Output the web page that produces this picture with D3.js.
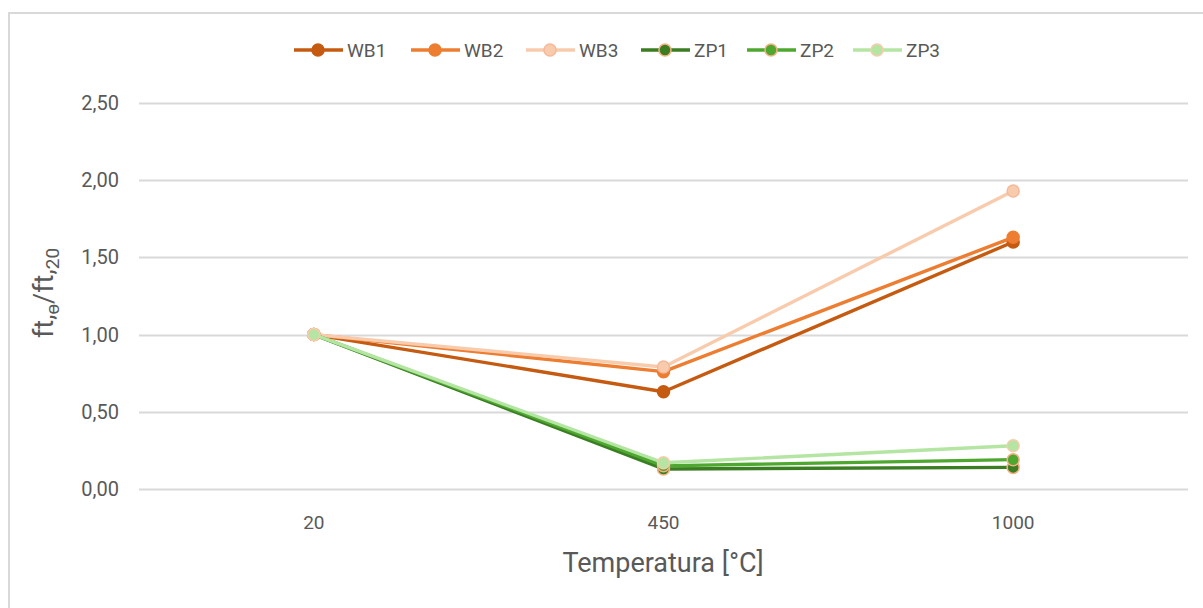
<!DOCTYPE html>
<html>
<head>
<meta charset="utf-8">
<style>
    body { margin: 0; background: #fff; }
    text { font-family: Roboto, "Liberation Sans", sans-serif; fill: #595959; }
</style>
</head>
<body>
<div class="board"></div>
<script src="https://d3js.org/d3.v7.min.js"></script>
<script>
    // data
    var temps = ["20", "450", "1000"]
    var seriesNames = ["WB1", "WB2", "WB3", "ZP1", "ZP2", "ZP3"]
    var WB1 = [1.00, 0.63, 1.60]
    var WB2 = [1.00, 0.76, 1.63]
    var WB3 = [1.00, 0.79, 1.93]
    var ZP1 = [1.00, 0.13, 0.14]
    var ZP2 = [1.00, 0.15, 0.19]
    var ZP3 = [1.00, 0.17, 0.28]
    var yTicks = [0, 0.5, 1, 1.5, 2, 2.5]

    var lineColors = ["#C55A11", "#ED7D31", "#F8CBAD", "#3A7D22", "#4EA72E", "#B4E5A2"]
    var markerStroke = ["#C55A11", "#ED7D31", "#F4B99A", "#F4B183", "#F4B183", "#F8CBAD"]
    var values = [WB1, WB2, WB3, ZP1, ZP2, ZP3]

    var width = 1203, height = 608
    var margin = { top: 103, right: 15, bottom: 119, left: 139 }

    var svg = d3.select(".board").append("svg")
        .attr("width", width)
        .attr("height", height)

    // outer frame
    svg.append("path")
        .attr("d", "M9,610 L9,13 L1210,13")
        .attr("fill", "none")
        .attr("stroke", "#d9d9d9")
        .attr("stroke-width", 2)

    var x = d3.scaleBand()
        .domain(temps)
        .range([margin.left, width - margin.right])

    var y = d3.scaleLinear()
        .domain([0, 2.5])
        .range([height - margin.bottom, margin.top])

    var fmt = d => d3.format(".2f")(d).replace(".", ",")

    // grid
    svg.append("g").selectAll("line")
        .data(yTicks)
        .enter()
        .append("line")
        .attr("x1", margin.left)
        .attr("x2", width - margin.right)
        .attr("y1", d => Math.round(y(d)) + 0.5)
        .attr("y2", d => Math.round(y(d)) + 0.5)
        .attr("stroke", "#d9d9d9")
        .attr("stroke-width", 2)

    svg.append("g").selectAll("text")
        .data(yTicks)
        .enter()
        .append("text")
        .attr("x", 119)
        .attr("y", d => y(d) + 7)
        .attr("text-anchor", "end")
        .style("font-size", "20px")
        .text(fmt)

    svg.append("g").selectAll("text")
        .data(temps)
        .enter()
        .append("text")
        .attr("x", d => x(d) + x.bandwidth() / 2)
        .attr("y", 529)
        .attr("text-anchor", "middle")
        .style("font-size", "19px")
        .text(d => d)

    // axis titles
    svg.append("text")
        .attr("x", 663)
        .attr("y", 572)
        .attr("text-anchor", "middle")
        .style("font-size", "27px")
        .text("Temperatura [°C]")

    var yt = svg.append("text")
        .attr("transform", "translate(53,293) rotate(-90)")
        .attr("text-anchor", "middle")
        .style("font-size", "27px")
    yt.append("tspan").text("ft,")
    yt.append("tspan").attr("dy", 6).style("font-size", "19px").text("ɵ")
    yt.append("tspan").attr("dy", -6).text("/ft,")
    yt.append("tspan").attr("dy", 6).style("font-size", "19px").text("20")

    var line = d3.line()
        .x((d, i) => x(temps[i]) + x.bandwidth() / 2)
        .y(d => y(d))

    seriesNames.forEach((name, s) => {
        var g = svg.append("g")
        g.append("path")
            .datum(values[s])
            .attr("d", line)
            .attr("fill", "none")
            .attr("stroke", lineColors[s])
            .attr("stroke-width", 3.4)
            .attr("stroke-linejoin", "round")
        g.selectAll("circle")
            .data(values[s])
            .enter()
            .append("circle")
            .attr("cx", (d, i) => x(temps[i]) + x.bandwidth() / 2)
            .attr("cy", d => y(d))
            .attr("r", 6)
            .attr("fill", lineColors[s])
            .attr("stroke", markerStroke[s])
            .attr("stroke-width", 1.5)
    })

    // legend
    var legendX = [294, 411, 526, 641, 747, 853]
    var legend = svg.append("g")
    seriesNames.forEach((name, s) => {
        var lg = legend.append("g").attr("transform", "translate(" + legendX[s] + ",50)")
        lg.append("line")
            .attr("x1", 0).attr("x2", 49)
            .attr("stroke", lineColors[s])
            .attr("stroke-width", 3.4)
        lg.append("circle")
            .attr("cx", 24).attr("r", 6)
            .attr("fill", lineColors[s])
            .attr("stroke", markerStroke[s])
            .attr("stroke-width", 1.5)
        lg.append("text")
            .attr("x", 53).attr("y", 7)
            .style("font-size", "19px")
            .text(name)
    })
</script>
</body>
</html>
